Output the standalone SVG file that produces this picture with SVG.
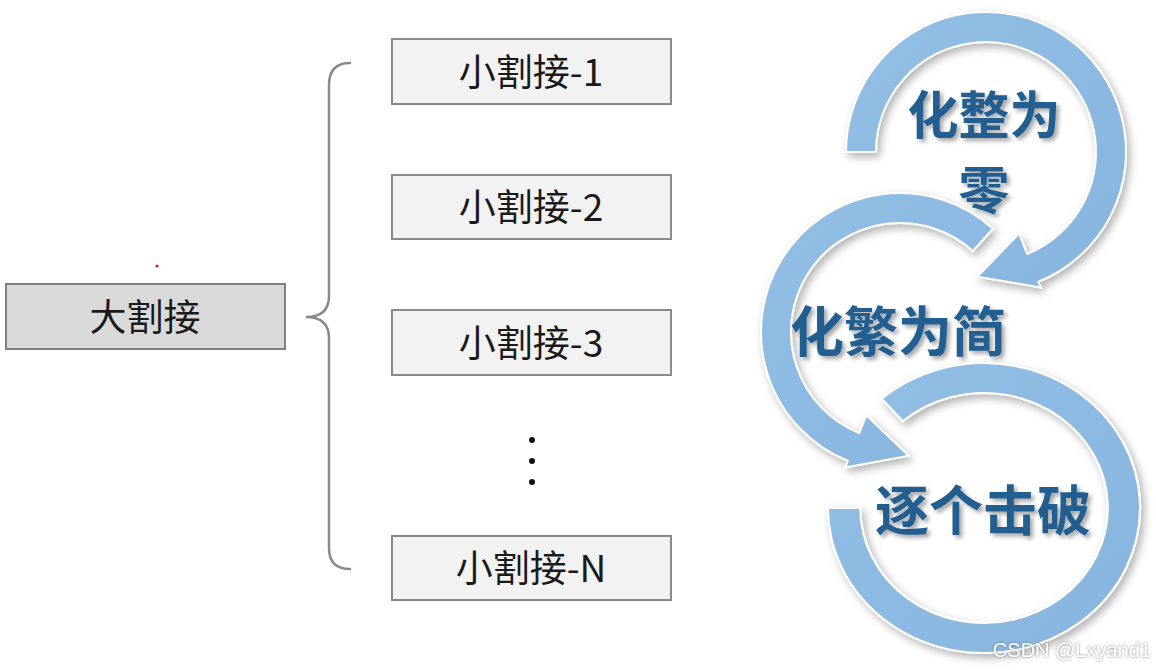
<svg xmlns="http://www.w3.org/2000/svg" width="1156" height="670" viewBox="0 0 1156 670">
<defs>
<style>
.box{fill:#f2f2f2;stroke:#8a8a8a;stroke-width:2}
.big{fill:#d9d9d9;stroke:#808080;stroke-width:2}
.lbl{font-family:"Noto Sans CJK SC","Noto Sans",sans-serif;font-size:37px;fill:#1a1a1a;text-anchor:middle;dominant-baseline:central}
.ring{fill:url(#rg);stroke:#ffffff;stroke-width:2;filter:url(#sh)}
.hd{font-family:"Noto Sans CJK SC","Noto Sans",sans-serif;font-size:54px;font-weight:600;fill:#215e90;text-anchor:middle;dominant-baseline:central;filter:url(#tsh)}
.brace{fill:none;stroke:#8a8a8a;stroke-width:2.5;stroke-linecap:round}
</style>
<linearGradient id="rg" x1="0" y1="0" x2="1" y2="1">
<stop offset="0" stop-color="#93bfe5"/>
<stop offset="1" stop-color="#86b5df"/>
</linearGradient>
<filter id="sh" x="-20%" y="-20%" width="140%" height="140%">
<feDropShadow dx="3" dy="4" stdDeviation="4" flood-color="#000" flood-opacity="0.3"/>
</filter>
<filter id="tsh" x="-20%" y="-20%" width="140%" height="140%">
<feDropShadow dx="3" dy="3" stdDeviation="2" flood-color="#000" flood-opacity="0.35"/>
</filter>
<filter id="wsh" x="-20%" y="-50%" width="140%" height="200%">
<feDropShadow dx="0" dy="0" stdDeviation="1" flood-color="#555" flood-opacity="0.8"/>
</filter>
</defs>
<rect width="1156" height="670" fill="#ffffff"/>

<g id="connectors">
<path class="brace" d="M350,63 Q329,63 329,85 L329,296 Q329,317 306,317 Q329,317 329,338 L329,548 Q329,569 350,569"/>
<circle cx="532" cy="440" r="3" fill="#111"/>
<circle cx="532" cy="461" r="3" fill="#111"/>
<circle cx="532" cy="482" r="3" fill="#111"/>
</g>

<g id="node-big">
<rect class="big" x="6" y="284" width="279" height="65"/>
<text class="lbl" x="145" y="315">大割接</text>
</g>
<circle cx="157" cy="266" r="1.6" fill="#d22"/>

<g id="node-1">
<rect class="box" x="392" y="39" width="279" height="65"/>
<text class="lbl" x="531" y="70">小割接-1</text>
</g>
<g id="node-2">
<rect class="box" x="392" y="175" width="279" height="64"/>
<text class="lbl" x="531" y="205">小割接-2</text>
</g>
<g id="node-3">
<rect class="box" x="392" y="310" width="279" height="65"/>
<text class="lbl" x="531" y="341">小割接-3</text>
</g>
<g id="node-n">
<rect class="box" x="392" y="536" width="279" height="64"/>
<text class="lbl" x="531" y="566">小割接-N</text>
</g>

<g id="cycle">
<g id="ring-3">
<path class="ring" transform="translate(984,508) scale(1.076,1)" d="M-95.1,-109.4 A145,145 0 1 1 -145,0 L-115,0 A115,115 0 1 0 -75.5,-86.8 Z"/>
</g>
<g id="ring-2">
<path class="ring" d="M993,228.7 A139,139 0 1 0 847.9,460.9 L845.3,467.4 L908.7,455.7 L866.3,415.4 L859.2,433.1 A109,109 0 1 1 972.9,251 Z"/>
</g>
<g id="ring-1">
<path class="ring" d="M846,152 A140,140 0 1 1 1038.4,281.8 L1040.7,287.4 L977.3,276.7 L1019,233.6 L1027.2,254 A110,110 0 1 0 876,152 Z"/>
</g>
<text class="hd" style="font-size:51px"><tspan x="984" y="112">化整为</tspan><tspan x="984" y="187">零</tspan></text>
<text class="hd" x="898" y="328">化繁为简</text>
<text class="hd" x="983" y="507">逐个击破</text>
</g>

<text x="1151" y="657" font-family="Liberation Sans, Arial, sans-serif" font-size="20" fill="#ffffff" text-anchor="end" filter="url(#wsh)">CSDN @Lxyand1</text>
</svg>
